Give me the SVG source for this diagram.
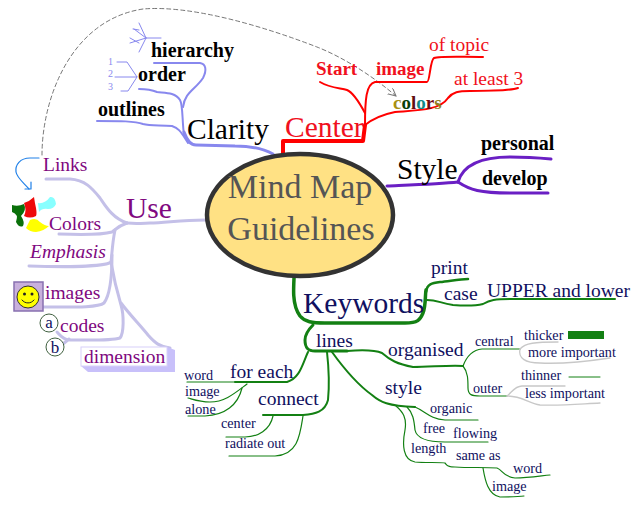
<svg xmlns="http://www.w3.org/2000/svg" width="640" height="507" viewBox="0 0 640 507">
<style>
text{font-family:"Liberation Serif","Times New Roman",serif}
path{fill:none;stroke-linecap:round;stroke-linejoin:round}
.bl{stroke:#8888ee}.rd{stroke:#ff0000}.pu{stroke:#6a1fc4}.la{stroke:#c4c0e8}.gr{stroke:#138013}.gy{stroke:#c8c8c8;stroke-width:1.3}
.w5{stroke-width:4}.w3{stroke-width:3}.w2{stroke-width:2}.w1{stroke-width:1.2}
.big{font-size:29.500px}.b{font-size:20px;font-weight:bold}.m{font-size:19.500px}.s{font-size:14.200px}
.navy{fill:#101060}.purple{fill:#800880}.red{fill:#f01020}
</style>
<defs><marker id="op" markerWidth="10" markerHeight="10" refX="8" refY="4" orient="auto"><path d="M0 0L8 4L0 8" stroke="#777" stroke-width="1"/></marker></defs>
<g id="connectors">
<path d="M42 155C42 100 70 20 143 9C190 5 260 25 317 47C345 58 375 78 396 96" stroke="#777" stroke-width="1" stroke-dasharray="4 3" marker-end="url(#op)"/>
<path class="bl w3" d="M273 154C262 148 250 146 235 146L196 145C190 145 187 140 184 132"/>
<path class="bl w2" d="M188 143C180 130 178 128 172 126C160 125 150 126 143 124C135 121 120 121 97 121"/>
<path class="bl w2" d="M184 135C182 120 183 105 180 100C175 92 165 93 157 92C150 89 145 89 139 89"/>
<path class="bl w2" d="M183 107C185 92 195 90 203 78C207 70 206 64 200 63L154 63"/>
<path class="bl" stroke-width="1" d="M161 38H146L134 29M146 38L130 43M146 38L139 23M146 38L139 52M139 30L133 29M139 43L130 38"/>
<path class="bl" stroke-width="1" d="M117 62H127L137 77H115M137 77L128 91H121"/>
<path class="rd w5" d="M283 153V141H363L365 125"/>
<path class="rd w2" d="M365 113C358 100 352 92 347 90C340 88 330 88 320 82"/>
<path class="rd w2" d="M365 125C365 100 366 84 375 82H427C430 82 430 60 434 58C440 56 460 57 483 57"/>
<path class="rd w2" d="M365 125C375 117 385 114 395 112C420 110 440 110 448 98C453 92 458 91 470 91C490 91 510 91 518 88"/>
<path class="pu w3" d="M387 186C410 185 440 184 458 182"/>
<path class="pu w3" d="M458 182C463 165 480 157 510 157C525 157 540 158 551 159"/>
<path class="pu w3" d="M458 182C470 190 480 193 510 193C525 193 540 193 548 193"/>
<path class="la w3" d="M205 220C180 220 165 223 150 223C140 224 132 223 127 223"/>
<path class="la w3" d="M127 223C112 218 105 205 100 198C92 188 85 180 70 179L46 179"/>
<path class="la w3" d="M127 223C118 226 115 230 112 232C105 234 85 235 59 234"/>
<path class="la w3" d="M115 230C112 245 112 255 111 262C105 267 60 267 29 266"/>
<path class="la w3" d="M112 255C112 275 110 295 104 303C98 308 70 307 43 307"/>
<path class="la w3" d="M111 262C114 280 118 295 121 305C124 315 124 333 120 338C110 341 85 340 70 340C63 340 60 335 57 332"/>
<path class="la w3" d="M69 339L63 344"/>
<path class="la w3" d="M121 303C130 315 140 325 148 335C155 343 160 347 170 348"/>
<path class="gr" stroke-width="3.500" d="M295 263C293 290 292 305 300 316C305 322 312 323 325 323H405C418 323 420 320 423 313C426 305 425 295 426 290"/>
<path class="gr" stroke-width="2.500" d="M426 292C427 284 432 283 440 282C450 281 460 279 468 279"/>
<path class="gr w2" d="M427 300C437 300 440 303 453 305C465 306 475 306 483 304C490 300 495 299 510 299H615"/>
<path class="gr w3" d="M313 325C308 330 305 335 305 340C305 348 308 351 315 351C330 351 340 351 347 351"/>
<path class="gr w2" d="M347 351C360 350 375 350 382 353C390 360 397 364 413 367C430 367 450 365 463 366"/>
<path class="gr w1" d="M463 366C466 358 472 350 482 349H520"/>
<path class="gy" d="M520 349C525 343 535 342 558 342"/>
<path class="gy" d="M520 349C518 358 525 363 540 363C560 364 590 361 610 358"/>
<path class="gr w1" d="M463 366C468 372 468 380 468 388C468 395 472 396 480 396H507"/>
<path class="gy" d="M507 396C512 392 515 386 522 386H565"/>
<path class="gy" d="M507 396C522 396 528 403 540 405C560 406 580 404 600 403"/>
<path class="gr" stroke-width="1" d="M569 377H600"/>
<rect x="568" y="331" width="36" height="8" fill="#138013"/>
<path class="gr w2" d="M308 352C302 365 300 378 287 382H235"/>
<path class="gr w1" d="M187 382H235"/>
<path class="gr w1" d="M247 384C235 393 225 402 210 402C200 402 195 400 188 398"/>
<path class="gr w1" d="M242 388C238 405 225 415 205 416C198 416 192 416 188 416"/>
<path class="gr w2" d="M327 352C329 370 329 390 328 400C325 412 315 414 303 415H263"/>
<path class="gr w1" d="M273 416C270 430 258 437 245 437H226"/>
<path class="gr w1" d="M303 416C300 435 298 455 275 456H229"/>
<path class="gr w2" d="M332 352C345 370 358 385 372 395C380 402 388 406 415 407"/>
<path class="gr w1" d="M415 407C425 411 430 419 445 420H478"/>
<path class="gr w1" d="M407 407C413 413 414 420 415 430C417 440 430 442 445 442H488"/>
<path class="gr w1" d="M396 406C403 412 407 418 405 430C402 445 403 460 415 462C425 463 440 462 445 463C447 465 447 467 455 467C470 468 485 467 497 468C503 470 503 477 515 478C528 478 540 476 550 475"/>
<path class="gr w1" d="M483 468C485 480 488 495 500 497C510 497 518 497 524 496"/>
<path stroke="#2080e8" stroke-width="1.200" d="M39 158H30C20 158 15 165 16 172C17 178 24 183 29 189"/>
<path stroke="#2080e8" stroke-width="1.200" d="M25 189H31V182"/>
</g>
<g id="center"><ellipse cx="300" cy="215" rx="93" ry="61" fill="#ffe184" stroke="#333" stroke-width="4.500"/>
<text x="300" y="198" text-anchor="middle" font-size="34" fill="#555">Mind Map</text>
<text x="301" y="240" text-anchor="middle" font-size="34" fill="#555">Guidelines</text></g>
<g id="clarity"><text x="187" y="139" class="big" fill="#000">Clarity</text>
<text x="151" y="57" class="b">hierarchy</text><text x="138" y="81" class="b">order</text><text x="98" y="116" class="b">outlines</text>
<g fill="#8888ee" font-size="10"><text x="108" y="65">1</text><text x="108" y="77">2</text><text x="108" y="90">3</text></g></g>
<g id="centerbr"><text x="285" y="137" class="big red">Center</text>
<text x="316" y="75" font-size="19" font-weight="bold" class="red">Start</text><text x="376" y="75" font-size="19" font-weight="bold" class="red">image</text>
<text x="429" y="51" class="m red">of topic</text><text x="454" y="85" class="m red">at least 3</text>
<text x="393" y="109" font-size="19" font-weight="bold"><tspan fill="#a89010">c</tspan><tspan fill="#0a400a">o</tspan><tspan fill="#601010">l</tspan><tspan fill="#108888">o</tspan><tspan fill="#700a10">r</tspan><tspan fill="#908020">s</tspan></text></g>
<g id="stylebr"><text x="397" y="179" class="big">Style</text><text x="481" y="150" class="b">personal</text><text x="482" y="185" class="b">develop</text></g>
<g id="use"><text x="126" y="218" class="big purple">Use</text>
<text x="43" y="171" class="m purple">Links</text><text x="49" y="230" class="m purple">Colors</text>
<text x="30" y="258" class="m purple" font-style="italic">Emphasis</text><text x="45" y="299" class="m purple">images</text><text x="60" y="332" class="m purple">codes</text>
<path style="fill:#0a700a;stroke:none" d="M12 205Q18 207 24 204Q27 210 21 216Q25 222 23 226Q19 228 16 222Q19 214 12 212Z"/>
<path style="fill:#ee0a0a;stroke:none" d="M24 203Q30 201 34 197Q35 204 36 208Q37 214 36 216Q30 219 24 216Q27 210 24 203Z"/>
<path style="fill:#88ffff;stroke:none" d="M38 203Q45 204 50 197Q55 196 56 204Q54 209 48 209Q42 208 39 212Z"/>
<path style="fill:#ffff00;stroke:none" d="M30 220Q36 217 40 222Q45 226 49 226Q44 231 36 232Q30 232 26 228Z"/>
<rect x="14" y="282" width="29" height="29" fill="#c8b0dc" stroke="#8870b0" stroke-width="1.500"/>
<circle cx="28" cy="297" r="11" fill="#ffff00" stroke="#333" stroke-width="1"/>
<circle cx="24.500" cy="294" r="1.500" fill="#222"/><circle cx="32" cy="294" r="1.500" fill="#222"/>
<path stroke="#222" stroke-width="1" d="M22 300C25 304 31 304 34 300"/>
<circle cx="49" cy="323" r="9" fill="#fff" stroke="#406040"/><text x="49" y="328" text-anchor="middle" font-size="17" class="navy">a</text>
<circle cx="55" cy="347" r="9" fill="#fff" stroke="#406040"/><text x="55" y="353" text-anchor="middle" font-size="17" class="navy">b</text>
<path style="fill:#c8c0fa;stroke:none" d="M167 347L175 350V372H88L81 366Z"/>
<rect x="81" y="347" width="86" height="19" fill="#fff" stroke="#d8d0fa"/>
<text x="84" y="363" class="m purple">dimension</text></g>
<g id="keywords"><text x="303" y="313" class="big navy">Keywords</text>
<text x="431" y="274" class="m navy">print</text><text x="444" y="300" class="m navy">case</text><text x="487" y="297" class="m navy">UPPER and lower</text>
<text x="316" y="347" class="m navy">lines</text><text x="388" y="356" class="m navy">organised</text><text x="385" y="394" class="m navy">style</text>
<text x="475" y="346" class="s navy">central</text><text x="524" y="340" class="s navy">thicker</text><text x="528" y="357" class="s navy">more important</text>
<text x="521" y="380" class="s navy">thinner</text><text x="525" y="398" class="s navy">less important</text><text x="473" y="393" class="s navy">outer</text>
<text x="430" y="413" class="s navy">organic</text><text x="423" y="433" class="s navy">free</text><text x="453" y="438" class="s navy">flowing</text>
<text x="411" y="453" class="s navy">length</text><text x="456" y="460" class="s navy">same as</text><text x="513" y="473" class="s navy">word</text><text x="492" y="491" class="s navy">image</text>
<text x="230" y="378" class="m navy">for each</text><text x="258" y="405" class="m navy">connect</text>
<text x="184" y="380" class="s navy">word</text><text x="185" y="396" class="s navy">image</text><text x="185" y="414" class="s navy">alone</text>
<text x="221" y="428" class="s navy">center</text><text x="225" y="448" class="s navy">radiate out</text></g>
</svg>
